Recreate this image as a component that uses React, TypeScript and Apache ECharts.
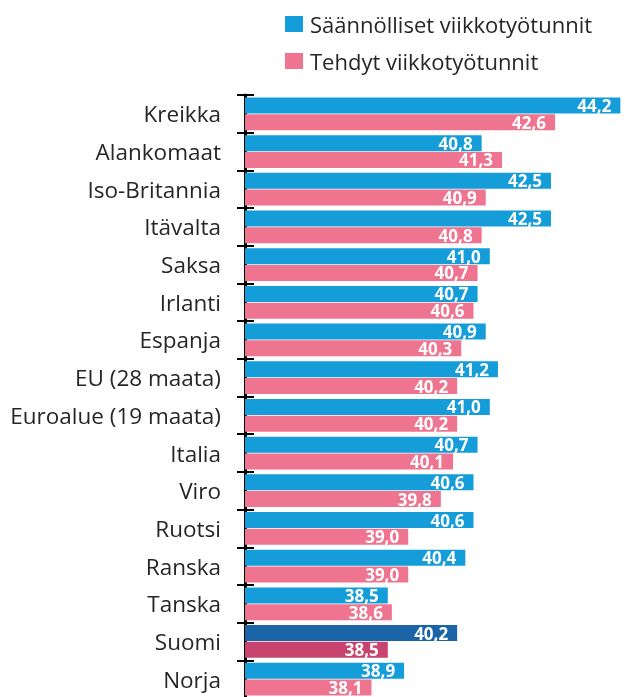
import React, { useEffect, useRef } from "react";
import * as echarts from "echarts";

const categories = [
  "Kreikka", "Alankomaat", "Iso-Britannia", "Itävalta", "Saksa", "Irlanti", "Espanja",
  "EU (28 maata)", "Euroalue (19 maata)", "Italia", "Viro", "Ruotsi", "Ranska", "Tanska", "Suomi", "Norja",
];
const saannolliset = [44.2, 40.8, 42.5, 42.5, 41.0, 40.7, 40.9, 41.2, 41.0, 40.7, 40.6, 40.6, 40.4, 38.5, 40.2, 38.9];
const tehdyt = [42.6, 41.3, 40.9, 40.8, 40.7, 40.6, 40.3, 40.2, 40.2, 40.1, 39.8, 39.0, 39.0, 38.6, 38.5, 38.1];
const seriesNames = ["Säännölliset viikkotyötunnit", "Tehdyt viikkotyötunnit"];
const highlight = "Suomi";

const BLUE = "#149dd8";
const PINK = "#ee7490";
const BLUE_DARK = "#1b64a8";
const PINK_DARK = "#c8446f";

const fmt = (v: number) => v.toFixed(1).replace(".", ",");

export default function App() {
  const ref = useRef<HTMLDivElement>(null);
  useEffect(() => {
    if (!ref.current) return;
    const chart = echarts.init(ref.current, null, { renderer: "svg" });
    const mk = (vals: number[], base: string, dark: string) =>
      vals.map((v, i) => ({
        value: v,
        itemStyle: { color: categories[i] === highlight ? dark : base },
      }));
    const label = {
      show: true,
      position: "insideRight" as const,
      distance: 9,
      color: "#ffffff",
      fontFamily: "Open Sans",
      fontWeight: "bold" as const,
      fontSize: 17,
      formatter: (p: any) => fmt(p.value),
    };
    chart.setOption({
      animation: false,
      textStyle: { fontFamily: "Open Sans" },
      legend: {
        orient: "vertical",
        left: 280,
        top: 8,
        itemWidth: 18,
        itemHeight: 16,
        itemGap: 15,
        icon: "rect",
        textStyle: { fontFamily: "Open Sans", fontSize: 22, color: "#262626", padding: [0, 0, 0, 2] },
        data: [
          { name: seriesNames[0], itemStyle: { color: BLUE } },
          { name: seriesNames[1], itemStyle: { color: PINK } },
        ],
      },
      grid: { left: 245, top: 95, width: 408, height: 603 },
      xAxis: {
        type: "value",
        min: 35,
        max: 45,
        show: false,
      },
      yAxis: [
        {
          type: "category",
          data: categories,
          inverse: true,
          axisLine: { show: true, lineStyle: { color: "#000", width: 3 } },
          axisTick: { show: true, length: 8, lineStyle: { color: "#000", width: 2 } },
          axisLabel: { fontFamily: "Open Sans", fontSize: 22.5, color: "#262626", margin: 24 },
          splitLine: { show: false },
        },
        {
          type: "category",
          data: categories,
          inverse: true,
          position: "left",
          axisLine: { show: false },
          axisTick: { show: true, inside: true, length: 9, lineStyle: { color: "#000", width: 2 } },
          axisLabel: { show: false },
          splitLine: { show: false },
        },
      ],
      series: [
        {
          name: seriesNames[0],
          type: "bar",
          yAxisIndex: 0,
          barWidth: 16,
          barGap: "5%",
          data: mk(saannolliset, BLUE, BLUE_DARK),
          label,
          z: 2,
        },
        {
          name: seriesNames[1],
          type: "bar",
          yAxisIndex: 0,
          barWidth: 16,
          barGap: "5%",
          data: mk(tehdyt, PINK, PINK_DARK),
          label,
          z: 2,
        },
      ],
    });
    return () => chart.dispose();
  }, []);
  return (
    <div
      ref={ref}
      style={{ position: "fixed", left: 0, top: 0, width: 660, height: 705 }}
    />
  );
}
